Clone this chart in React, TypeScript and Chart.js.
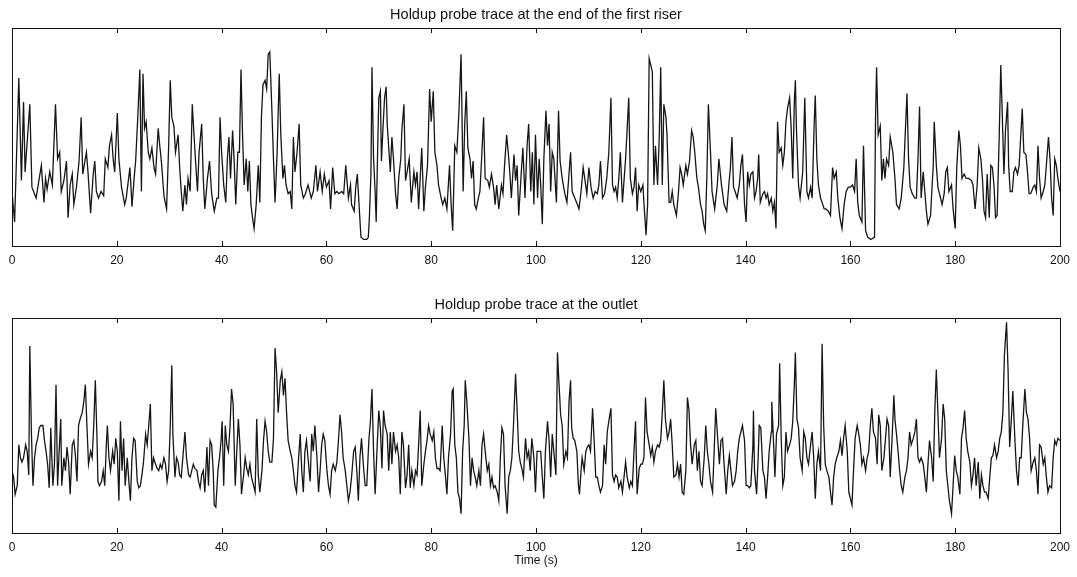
import { useEffect, useRef } from "react";
import { Chart, registerables } from "chart.js";

Chart.register(...registerables);

const riserTitle = "Holdup probe trace at the end of the first riser";
const outletTitle = "Holdup probe trace at the outlet";
const timeAxisTitle = "Time (s)";
const timeTicks = [0, 20, 40, 60, 80, 100, 120, 140, 160, 180, 200];

// [time (s), holdup signal (arbitrary units, 0-100)]
const riserTrace: [number, number][] = [
  [0,25],[0.5,11],[1.3,77],[1.8,30],[2.2,66],[2.5,34],[3.4,65],[3.8,27],[4.6,22],[5.6,37],[6.1,20],[6.4,31],[6.7,26],[7.2,34],[7.7,28],[8.3,65],[8.7,40],[9.1,43],[9.4,25],[9.9,30],[10.4,39],[10.7,13],[11.1,28],[11.5,33],[11.8,19],[12.3,27],[12.8,39],[13.2,59],[13.5,33],[14.2,43],[14.5,34],[15.0,15],[15.5,33],[15.8,39],[16.1,25],[16.5,22],[17.0,25],[17.5,23],[17.8,40],[18.3,36],[18.6,46],[19.0,51],[19.3,40],[19.6,34],[20.1,61],[20.4,40],[20.9,27],[21.5,19],[21.8,22],[22.5,36],[22.9,18],[23.3,31],[23.6,39],[24.0,59],[24.4,81],[24.7,25],[25.0,79],[25.3,54],[25.6,57],[26.0,43],[26.3,40],[26.7,45],[27.1,36],[27.4,33],[27.9,54],[28.2,46],[28.5,39],[29.0,23],[29.5,17],[29.9,46],[30.2,76],[30.5,59],[30.9,55],[31.2,43],[31.7,51],[32.0,36],[32.3,25],[32.6,16],[33.0,28],
  [33.3,19],[33.6,31],[34.0,25],[34.4,65],[35.0,40],[35.4,25],[35.7,43],[36.2,56],[36.5,31],[36.8,17],[37.3,31],[37.7,39],[38.1,24],[38.6,16],[39.1,22],[39.4,22],[39.7,59],[40.0,43],[40.4,28],[40.8,20],[41.1,40],[41.4,50],[41.7,31],[42.1,53],[42.4,39],[42.7,19],[43.1,43],[43.4,43],[43.7,81],[44.0,51],[44.3,28],[44.7,40],[45.0,25],[45.3,39],[45.6,19],[45.9,13],[46.2,8],[46.6,19],[47.0,37],[47.3,20],[47.6,59],[47.9,74],[48.3,76],[48.6,72],[48.9,88],[49.2,89],[49.6,62],[49.9,40],[50.2,20],[50.6,43],[51.0,79],[51.3,51],[51.7,31],[52.0,37],[52.3,28],[52.7,24],[53.1,25],[53.4,17],[53.7,50],[54.0,34],[54.4,43],[54.8,56],[55.1,28],[55.6,22],[56.0,24],[56.5,28],[57.1,22],[57.5,25],[58.0,37],[58.3,25],[58.8,34],[59.2,25],[59.6,33],[60.0,27],[60.5,30],[60.8,17],[61.2,36],[61.6,24],[62.0,25],[62.4,24],[62.9,25],[63.3,24],[63.7,37],[64.2,22],[64.6,28],[64.8,19],[65.3,16],[65.6,27],[65.9,33],[66.3,16],[66.6,4],[67.1,3],[67.7,3],[68.0,4],
  [68.2,13],[68.5,33],[68.7,82],[69.0,40],[69.3,25],[69.5,11],[69.8,46],[70.0,68],[70.3,71],[70.5,39],[70.8,54],[71.1,68],[71.4,73],[71.6,56],[71.9,45],[72.2,34],[72.5,50],[72.8,40],[73.2,24],[73.5,17],[73.8,31],[74.2,40],[74.4,53],[74.8,65],[75.1,30],[75.4,34],[75.8,40],[76.2,20],[76.7,34],[77.0,28],[77.3,34],[77.6,17],[78.0,36],[78.2,45],[78.6,16],[78.9,27],[79.3,37],[79.7,72],[80.0,57],[80.4,71],[80.7,43],[81.1,37],[81.4,28],[81.9,22],[82.2,19],[82.6,22],[83.0,17],[83.5,37],[83.8,19],[84.1,7],[84.5,46],[84.9,43],[85.3,62],[85.7,88],[86.1,25],[86.4,56],[86.7,71],[87.0,45],[87.4,40],[87.7,31],[88.0,39],[88.3,19],[88.6,17],[89.0,22],[89.3,25],[89.6,39],[90.0,59],[90.3,31],[90.8,30],[91.1,27],[91.5,33],[91.9,27],[92.2,19],[92.5,28],[92.9,17],[93.4,28],[93.7,24],[94.0,37],[94.4,51],[94.7,43],[95.0,34],[95.3,22],[95.8,42],[96.1,30],[96.4,37],[96.7,14],[97.2,34],[97.5,45],[97.9,22],[98.3,46],[98.6,56],[99.0,25],[99.3,43],[99.6,19],[99.9,51],[100.3,22],
  [100.6,40],[100.9,28],[101.2,10],[101.5,40],[101.9,62],[102.2,46],[102.5,56],[102.8,25],[103.1,43],[103.4,40],[103.9,20],[104.3,62],[104.6,39],[105.0,31],[105.5,24],[105.9,20],[106.3,33],[106.6,43],[106.9,25],[107.4,22],[107.9,19],[108.2,17],[108.6,25],[109.0,36],[109.3,31],[109.7,24],[110.1,36],[110.5,27],[110.9,22],[111.3,25],[111.7,24],[112.0,28],[112.3,39],[112.7,22],[113.1,24],[113.5,31],[113.9,43],[114.3,68],[114.6,28],[114.9,25],[115.2,27],[115.5,22],[115.8,31],[116.1,43],[116.5,20],[116.8,30],[117.1,40],[117.4,54],[117.7,68],[118.0,31],[118.4,24],[118.7,27],[119.0,36],[119.3,16],[119.6,28],[120.0,25],[120.4,28],[120.7,16],[121.0,5],[121.3,19],[121.6,86],[121.9,83],[122.2,80],[122.5,28],[122.8,46],[123.2,28],[123.5,48],[123.8,82],[124.1,28],[124.4,65],[124.8,59],[125.0,51],[125.4,20],[125.7,20],[126.0,25],[126.3,19],[126.8,14],[127.2,25],[127.5,36],[127.8,33],[128.1,28],[128.6,37],[128.9,33],[129.3,39],[129.7,53],[130.0,50],[130.3,43],[130.7,31],[131.0,27],[131.4,19],[131.7,16],[132.0,10],[132.3,7],[132.6,31],[132.9,65],[133.3,43],[133.6,25],[134.1,17],[134.6,28],[134.9,40],[135.4,28],[135.9,19],
  [136.4,16],[136.8,28],[137.1,36],[137.4,50],[137.7,27],[138.0,25],[138.4,22],[138.8,28],[139.1,37],[139.4,42],[139.8,19],[140.1,11],[140.4,34],[140.7,28],[141.0,33],[141.4,34],[141.7,22],[142.0,25],[142.3,31],[142.5,42],[142.8,20],[143.3,24],[143.6,25],[143.9,22],[144.2,24],[144.5,19],[144.9,22],[145.2,16],[145.5,20],[145.8,8],[146.1,57],[146.4,43],[146.8,45],[147.1,37],[147.4,43],[147.7,57],[148.0,63],[148.4,68],[148.7,54],[149.0,31],[149.3,66],[149.5,76],[149.7,54],[150.1,28],[150.4,22],[150.9,34],[151.3,68],[151.7,25],[152.0,22],[152.4,27],[152.7,22],[153.1,57],[153.3,69],[153.6,40],[153.9,28],[154.3,22],[154.6,20],[155.0,17],[155.3,17],[155.8,16],[156.2,14],[156.6,36],[156.9,31],[157.3,34],[157.6,22],[158.0,13],[158.4,8],[158.8,19],[159.2,25],[159.6,27],[160.0,27],[160.4,28],[160.8,25],[161.1,40],[161.4,20],[161.7,14],[162.2,11],[162.5,46],[162.9,7],[163.3,4],[163.9,3],[164.6,4],[164.8,59],[165.0,82],[165.3,51],[165.7,55],[166.0,30],[166.3,40],[166.6,31],[166.9,40],[167.3,37],[167.6,50],[168.1,43],
  [168.5,31],[168.8,19],[169.3,17],[169.7,22],[170.2,36],[170.6,59],[170.8,70],[171.1,40],[171.4,27],[171.8,24],[172.3,22],[172.6,22],[172.9,40],[173.2,64],[173.5,22],[173.9,34],[174.2,25],[174.5,16],[174.8,10],[175.3,14],[175.6,28],[175.8,36],[176.0,57],[176.4,37],[176.7,27],[177.0,24],[177.5,19],[177.9,24],[178.2,34],[178.5,36],[178.8,25],[179.3,28],[179.6,17],[180.0,8],[180.3,36],[180.7,53],[181.0,46],[181.3,31],[181.7,33],[182.1,31],[182.6,31],[183.1,30],[183.4,28],[183.8,17],[184.2,28],[184.5,45],[184.9,40],[185.2,31],[185.5,16],[185.8,13],[186.1,33],[186.5,13],[186.8,37],[187.1,36],[187.4,28],[187.7,13],[188.0,14],[188.4,50],[188.7,83],[189.0,59],[189.3,33],[189.6,53],[190.0,66],[190.2,37],[190.5,25],[190.9,25],[191.2,34],[191.5,36],[191.9,33],[192.2,37],[192.5,50],[192.8,63],[193.1,43],[193.5,42],[193.8,34],[194.1,24],[194.4,24],[194.9,27],[195.2,28],[195.5,25],[195.8,46],[196.1,31],[196.4,22],[196.8,25],[197.1,28],[197.4,37],[197.8,50],[198.1,40],[198.4,22],[198.7,14],[199.0,40],[199.3,37],[199.6,31],[200,25]
];

const outletTrace: [number, number][] = [
  [0,29],[0.3,26],[0.6,18],[1.0,22],[1.3,41],[1.6,35],[1.9,33],[2.2,35],[2.6,41],[2.9,38],[3.2,27],[3.4,87],[3.7,47],[4.0,22],[4.3,35],[4.6,41],[4.9,44],[5.2,49],[5.5,50],[5.9,50],[6.2,43],[6.5,38],[6.8,32],[7.1,21],[7.4,49],[7.8,22],[8.1,32],[8.4,69],[8.7,22],[9.0,38],[9.3,53],[9.5,22],[9.9,35],[10.2,29],[10.5,40],[10.8,33],[11.1,18],[11.5,41],[11.8,43],[12.1,36],[12.4,24],[12.7,50],[13.0,53],[13.4,56],[13.7,61],[14.0,69],[14.3,50],[14.6,32],[15.0,38],[15.3,35],[15.6,50],[15.9,71],[16.2,46],[16.4,24],[16.7,22],[17.1,24],[17.4,29],[17.7,22],[18.0,41],[18.2,50],[18.5,35],[18.8,29],[19.2,38],[19.5,32],[19.8,44],[20.1,38],[20.4,15],[20.7,52],[21.0,29],[21.3,44],[21.6,22],[22.0,35],[22.3,24],[22.6,15],[22.9,35],[23.2,44],[23.5,43],[23.9,24],[24.2,21],[24.5,22],[24.8,27],[25.1,33],[25.5,46],[25.8,41],[26.1,50],[26.4,60],[26.7,29],[27.0,35],[27.4,32],[27.7,30],[28.0,29],[28.3,32],[28.6,30],[29.0,35],[29.3,32],[29.6,24],[29.9,29],[30.2,50],[30.5,78],[30.7,46],[31.1,26],[31.4,35],[31.7,33],[32.0,27],[32.3,26],[32.6,35],[33.0,47],
  [33.3,35],[33.7,27],[34.0,26],[34.3,29],[34.6,32],[34.9,30],[35.3,29],[35.6,24],[35.9,21],[36.2,27],[36.5,29],[36.8,19],[37.2,40],[37.5,22],[37.8,43],[38.1,41],[38.4,29],[38.6,13],[38.9,12],[39.3,29],[39.6,35],[39.9,43],[40.1,52],[40.4,22],[40.7,50],[41.0,41],[41.3,38],[41.6,49],[41.9,67],[42.2,60],[42.6,22],[42.9,38],[43.2,53],[43.5,41],[43.8,18],[44.2,27],[44.5,35],[44.8,30],[45.1,27],[45.4,32],[45.7,26],[46.1,22],[46.4,19],[46.7,53],[47.0,27],[47.3,19],[47.7,29],[48.0,43],[48.3,52],[48.6,47],[48.9,38],[49.2,33],[49.6,33],[49.9,44],[50.2,86],[50.5,75],[50.8,56],[51.2,71],[51.5,75],[51.8,64],[52.1,72],[52.4,56],[52.7,43],[53.1,38],[53.4,35],[53.7,29],[54.0,22],[54.3,19],[54.7,35],[55.0,46],[55.3,29],[55.6,19],[55.9,38],[56.2,43],[56.6,32],[56.9,24],[57.2,46],[57.5,38],[57.8,50],[58.2,35],[58.5,19],[58.8,29],[59.1,41],[59.4,46],[59.7,43],[60.1,29],[60.4,22],[60.7,18],[61.0,29],[61.3,32],[61.7,29],[62.0,33],[62.3,43],[62.6,55],[62.9,47],[63.2,35],[63.6,29],[63.9,22],[64.2,15],[64.5,19],[64.8,26],[65.2,38],[65.5,40],[65.8,29],[66.1,15],[66.4,35],[66.7,44],
  [67.1,30],[67.4,22],[67.7,22],[68.1,43],[68.4,52],[68.7,67],[69.0,38],[69.3,18],[69.7,41],[70.0,57],[70.3,49],[70.6,30],[70.9,57],[71.2,50],[71.6,46],[71.9,29],[72.2,47],[72.5,32],[72.8,47],[73.2,38],[73.5,41],[73.8,35],[74.1,18],[74.4,47],[74.7,41],[75.1,21],[75.4,27],[75.7,41],[76.0,21],[76.3,29],[76.7,22],[77.0,29],[77.3,27],[77.6,41],[77.9,57],[78.2,22],[78.6,32],[78.9,38],[79.2,43],[79.5,50],[79.8,46],[80.2,43],[80.5,47],[80.8,35],[81.1,30],[81.4,30],[81.7,29],[82.1,50],[82.4,35],[82.7,27],[83.0,18],[83.3,35],[83.7,46],[84.0,66],[84.2,67],[84.5,41],[84.8,35],[85.1,19],[85.4,16],[85.7,9],[86.0,38],[86.3,50],[86.5,71],[86.8,61],[87.2,44],[87.5,22],[87.8,35],[88.1,29],[88.4,26],[88.7,22],[89.1,29],[89.4,22],[89.7,41],[90.0,46],[90.3,38],[90.7,29],[91.0,32],[91.3,22],[91.6,26],[91.9,21],[92.2,22],[92.6,19],[92.9,15],[93.2,35],[93.5,49],[93.8,46],[94.1,22],[94.5,9],[94.8,26],[95.1,29],[95.4,35],[95.7,50],[96.1,74],[96.4,57],[96.7,38],[97.0,33],[97.3,30],[97.6,26],[98.0,44],[98.3,35],[98.6,38],[98.9,29],[99.2,44],[99.6,35],[99.9,19],[100.2,38],[100.5,38],
  [100.9,38],[101.2,26],[101.5,16],[101.8,38],[102.2,52],[102.5,43],[102.8,26],[103.1,46],[103.4,38],[103.8,27],[104.1,84],[104.4,69],[104.7,55],[105.0,50],[105.3,32],[105.7,38],[106.0,35],[106.3,61],[106.6,71],[106.8,49],[107.1,44],[107.4,43],[107.8,38],[108.1,22],[108.3,18],[108.6,29],[108.8,35],[109.2,29],[109.5,38],[109.8,40],[110.1,41],[110.4,38],[110.8,58],[111.1,43],[111.4,26],[111.7,26],[112.0,22],[112.3,19],[112.7,22],[113.0,41],[113.3,32],[113.6,47],[113.9,52],[114.3,58],[114.6,27],[114.9,24],[115.2,27],[115.5,26],[115.8,21],[116.2,24],[116.5,19],[116.8,26],[117.1,33],[117.4,26],[117.8,21],[118.1,24],[118.4,22],[118.7,38],[119.0,52],[119.3,18],[119.7,30],[120.0,32],[120.3,32],[120.6,35],[120.9,63],[121.2,47],[121.6,41],[121.9,36],[122.2,40],[122.5,33],[122.8,38],[123.2,41],[123.5,40],[123.8,43],[124.1,56],[124.4,71],[124.7,53],[125.1,44],[125.4,47],[125.7,53],[126.0,41],[126.3,26],[126.7,27],[127.0,32],[127.3,26],[127.6,32],[127.9,19],[128.2,18],[128.6,29],[128.9,63],[129.2,57],[129.5,41],[129.8,32],[130.2,41],[130.5,43],[130.8,29],[131.1,38],[131.4,24],[131.7,22],[132.1,35],[132.4,50],[132.7,38],[133.0,32],[133.3,24],[133.7,19],[134.0,38],[134.3,58],
  [134.7,43],[135.0,32],[135.3,43],[135.6,44],[135.9,32],[136.3,18],[136.6,29],[136.9,36],[137.2,29],[137.5,22],[137.9,24],[138.2,29],[138.5,38],[138.8,44],[139.1,47],[139.4,50],[139.8,43],[140.1,22],[140.4,22],[140.7,21],[141.0,22],[141.4,41],[141.5,57],[141.7,29],[142.1,18],[142.4,35],[142.6,50],[142.9,49],[143.3,29],[143.6,26],[143.9,16],[144.2,26],[144.5,38],[144.9,47],[145.0,61],[145.3,44],[145.6,26],[145.9,46],[146.3,50],[146.5,79],[146.8,44],[147.1,22],[147.4,26],[147.7,47],[148.0,38],[148.4,41],[148.7,44],[149.0,52],[149.3,69],[149.5,84],[149.8,53],[150.1,49],[150.4,35],[150.8,29],[151.1,47],[151.4,44],[151.7,35],[152.0,32],[152.4,41],[152.7,47],[153.0,35],[153.3,16],[153.6,32],[153.9,38],[154.3,29],[154.6,88],[154.9,50],[155.2,32],[155.5,29],[155.9,26],[156.2,19],[156.5,13],[156.8,26],[157.1,32],[157.4,35],[157.8,38],[158.1,43],[158.4,36],[158.7,44],[159.0,50],[159.4,38],[159.7,19],[160.0,16],[160.3,13],[160.6,29],[160.9,44],[161.3,50],[161.6,46],[161.9,41],[162.2,32],[162.5,35],[162.9,29],[163.2,35],[163.5,38],[163.8,50],[164.1,58],[164.4,47],[164.8,44],[165.1,32],[165.4,55],[165.7,50],[166.0,29],[166.4,35],[166.7,44],[167.0,53],[167.3,50],[167.6,26],[167.9,41],[168.3,64],
  [168.5,53],[168.8,46],[169.1,38],[169.4,29],[169.7,22],[170.0,19],[170.4,26],[170.7,29],[171.0,35],[171.3,47],[171.6,41],[172.0,44],[172.3,47],[172.6,53],[172.9,35],[173.2,33],[173.5,35],[173.9,32],[174.2,26],[174.5,19],[174.8,32],[175.1,43],[175.5,35],[175.8,24],[176.1,56],[176.4,76],[176.7,56],[177.0,35],[177.4,44],[177.7,60],[178.0,53],[178.3,29],[178.6,22],[178.9,15],[179.3,9],[179.6,22],[179.9,36],[180.2,29],[180.5,26],[180.9,18],[181.2,44],[181.5,49],[181.8,57],[182.1,44],[182.4,38],[182.8,33],[183.1,22],[183.4,27],[183.7,35],[184.0,22],[184.4,33],[184.7,16],[185.0,27],[185.3,22],[185.6,19],[185.9,19],[186.3,16],[186.6,26],[186.9,35],[187.2,36],[187.5,41],[187.9,35],[188.2,38],[188.5,44],[188.8,47],[189.1,56],[189.4,83],[189.8,98],[190.1,75],[190.4,40],[190.7,52],[191.0,66],[191.4,43],[191.7,29],[192.0,22],[192.3,35],[192.6,35],[192.9,50],[193.3,67],[193.6,56],[193.9,53],[194.2,44],[194.5,29],[194.9,33],[195.2,35],[195.5,29],[195.8,18],[196.1,41],[196.4,40],[196.8,32],[197.1,35],[197.4,26],[197.7,19],[198.0,22],[198.4,21],[198.7,35],[199.0,43],[199.3,41],[199.6,44],[200,43]
];

const FONT = "'Liberation Sans', Arial, Helvetica, sans-serif";
const INK = "#111111";

const framePlugin = {
  id: "boxFrame",
  afterDraw(chart: any) {
    const { ctx, chartArea: a, scales } = chart;
    const xs = scales.x;
    ctx.save();
    ctx.strokeStyle = INK;
    ctx.lineWidth = 1;
    ctx.beginPath();
    xs.ticks.forEach((t: any) => {
      const px = Math.round(xs.getPixelForValue(t.value)) + 0.5;
      if (px <= a.left + 2 || px >= a.right - 2) return;
      ctx.moveTo(px, a.bottom);
      ctx.lineTo(px, a.bottom - 5);
      ctx.moveTo(px, a.top);
      ctx.lineTo(px, a.top + 5);
    });
    ctx.stroke();
    ctx.strokeRect(Math.round(a.left) + 0.5, Math.round(a.top) + 0.5, Math.round(a.right - a.left), Math.round(a.bottom - a.top));
    ctx.restore();
  },
};

function makeConfig(trace: [number, number][], title: string, opts: {
  titlePadTop: number; titlePadBottom: number; padBottom: number; axisHeight: number; axisTitle?: string;
}) {
  return {
    type: "line" as const,
    data: {
      datasets: [
        {
          data: trace.map(([t, v]) => ({ x: t, y: v })),
          borderColor: "#161616",
          borderWidth: 1.3,
          pointRadius: 0,
          tension: 0,
          fill: false,
        },
      ],
    },
    options: {
      animation: false as const,
      responsive: false,
      devicePixelRatio: 1,
      layout: { padding: { left: 12, right: 17, top: 0, bottom: opts.padBottom } },
      plugins: {
        legend: { display: false },
        tooltip: { enabled: false },
        title: {
          display: true,
          text: title,
          color: INK,
          font: { family: FONT, size: 14.5, weight: "normal" as const, lineHeight: 1.2 },
          padding: { top: opts.titlePadTop, bottom: opts.titlePadBottom },
        },
      },
      scales: {
        x: {
          type: "linear" as const,
          min: 0,
          max: 200,
          afterBuildTicks: (scale: any) => {
            scale.ticks = timeTicks.map((v) => ({ value: v }));
          },
          afterFit: (scale: any) => {
            scale.height = opts.axisHeight;
          },
          ticks: {
            color: INK,
            font: { family: FONT, size: 12, lineHeight: 1.2 },
            padding: 7,
            maxRotation: 0,
            autoSkip: false,
          },
          grid: { display: false, drawTicks: false, tickLength: 0 },
          border: { display: false },
          title: opts.axisTitle
            ? {
                display: true,
                text: opts.axisTitle,
                color: INK,
                font: { family: FONT, size: 12, lineHeight: 1.2 },
                padding: { top: 0, bottom: 3 },
              }
            : { display: false },
        },
        y: { display: false, min: 0, max: 100 },
      },
    },
    plugins: [framePlugin],
  };
}

export default function App() {
  const topRef = useRef<HTMLCanvasElement>(null);
  const bottomRef = useRef<HTMLCanvasElement>(null);

  useEffect(() => {
    const charts: Chart[] = [];
    if (topRef.current) {
      charts.push(
        new Chart(
          topRef.current,
          makeConfig(riserTrace, riserTitle, { titlePadTop: 6.3, titlePadBottom: 4.3, padBottom: 7, axisHeight: 30 }) as any
        )
      );
    }
    if (bottomRef.current) {
      charts.push(
        new Chart(
          bottomRef.current,
          makeConfig(outletTrace, outletTitle, {
            titlePadTop: 13.3,
            titlePadBottom: 4.3,
            padBottom: 6,
            axisHeight: 38,
            axisTitle: timeAxisTitle,
          }) as any
        )
      );
    }
    return () => charts.forEach((c) => c.destroy());
  }, []);

  return (
    <div style={{ position: "absolute", left: 0, top: 0, width: 1077, height: 577, background: "#ffffff", overflow: "hidden" }}>
      <canvas ref={topRef} width={1077} height={283} style={{ position: "absolute", left: 0, top: 0, width: 1077, height: 283 }} />
      <canvas ref={bottomRef} width={1077} height={294} style={{ position: "absolute", left: 0, top: 283, width: 1077, height: 294 }} />
    </div>
  );
}
